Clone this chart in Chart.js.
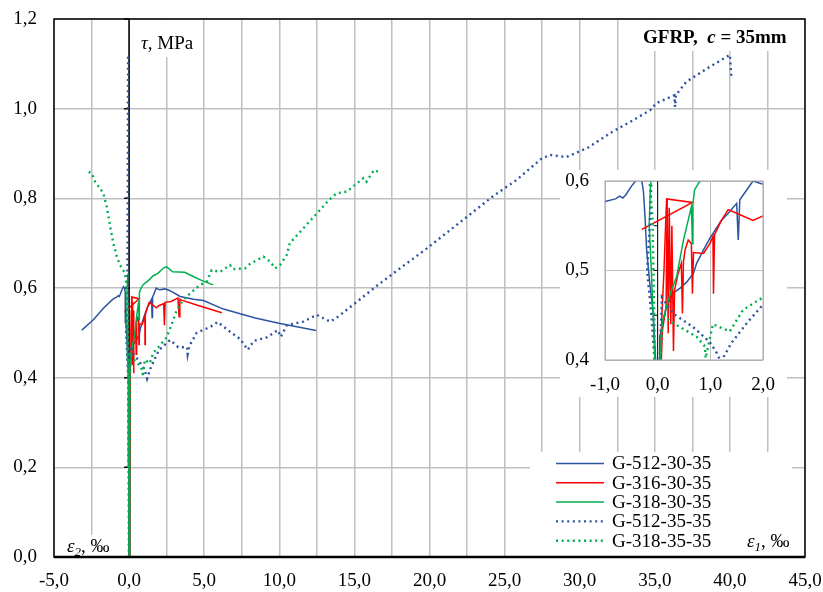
<!DOCTYPE html>
<html>
<head>
<meta charset="utf-8">
<script src="https://cdn.jsdelivr.net/npm/chart.js@4.4.1/dist/chart.umd.min.js"></script>
<style>
  body { margin: 0; background: #fff; }
  #wrap { position: relative; width: 823px; height: 592px; }
  #main { position: absolute; left: 0; top: 0; }
  #zoom { position: absolute; left: 560px; top: 170px; background: #fff; }
</style>
</head>
<body>
<div id="wrap">
  <canvas id="main" width="823" height="592"></canvas>
  <canvas id="zoom" width="227" height="227"></canvas>
</div>
<script>
const FONT = '"Liberation Serif", "Times New Roman", serif';
const BLUE = '#2E54A0';
const RED = '#FF0000';
const GREEN = '#00B050';

// tau [MPa] against strain [permille]; eps2 is negative, eps1 positive
const g512_30_eps2 = [[0,0],[-0.02,0.2],[-0.04,0.4],[-0.08,0.45],[-0.15,0.486],[-0.21,0.523],[-0.24,0.56],[-0.27,0.588],[-0.3,0.6],[-0.38,0.603],[-0.5,0.594],[-0.6,0.585],[-0.66,0.581],[-0.72,0.583],[-0.8,0.58],[-1.0,0.577],[-1.15,0.573],[-1.71,0.555],[-2.38,0.529],[-3.15,0.506]];
const g512_30_eps1 = [[0,0],[0.02,0.2],[0.03,0.4],[0.04,0.426],[0.17,0.46],[0.3,0.475],[0.42,0.48],[0.55,0.487],[0.68,0.497],[0.74,0.508],[0.87,0.523],[0.99,0.536],[1.09,0.545],[1.21,0.556],[1.34,0.564],[1.5,0.575],[1.53,0.534],[1.56,0.579],[1.69,0.59],[1.81,0.6],[1.97,0.597],[2.06,0.596],[2.4,0.598],[2.73,0.594],[3.4,0.581],[4.28,0.575],[4.95,0.572],[6.28,0.553],[8.4,0.533],[10.05,0.521],[12.45,0.505]];

const g316_30_eps2 = [[0.02,0],[0.03,0.2],[0.05,0.38],[0.08,0.45],[0.12,0.5],[0.15,0.55],[0.17,0.58],[0.66,0.576],[-0.3,0.546]];
const g316_30_eps1 = [[0.05,0],[0.06,0.2],[0.07,0.4],[0.09,0.433],[0.16,0.46],[0.18,0.58],[0.2,0.43],[0.22,0.57],[0.25,0.44],[0.27,0.55],[0.3,0.41],[0.32,0.478],[0.39,0.497],[0.45,0.508],[0.47,0.452],[0.49,0.51],[0.52,0.523],[0.58,0.534],[0.64,0.53],[0.66,0.474],[0.68,0.52],[0.87,0.519],[0.99,0.53],[1.05,0.538],[1.06,0.474],[1.08,0.54],[1.21,0.556],[1.34,0.568],[1.5,0.564],[1.81,0.556],[2.0,0.561],[2.3,0.565],[2.35,0.517],[2.4,0.568],[2.8,0.57],[3.25,0.578],[3.33,0.536],[3.38,0.575],[3.5,0.573],[4.5,0.562],[6.17,0.545]];

const g318_30_eps2 = [[0,0],[-0.02,0.2],[-0.04,0.38],[-0.08,0.44],[-0.12,0.5],[-0.16,0.55],[-0.14,0.59],[-0.1,0.62],[-0.07,0.633]];
const g318_30_eps1 = [[0,0],[0.03,0.2],[0.05,0.4],[0.08,0.44],[0.17,0.46],[0.26,0.478],[0.36,0.493],[0.42,0.512],[0.49,0.534],[0.55,0.549],[0.64,0.571],[0.66,0.53],[0.67,0.575],[0.7,0.59],[0.8,0.6],[0.95,0.608],[1.3,0.617],[1.62,0.628],[1.9,0.632],[2.3,0.645],[2.5,0.647],[2.9,0.636],[3.7,0.635],[4.3,0.625],[4.9,0.616],[5.6,0.607]];

const g512_35_eps2 = [[0,0],[-0.02,0.2],[-0.06,0.4],[-0.12,0.45],[-0.2,0.5],[-0.15,0.55],[-0.12,0.6],[-0.1,0.7],[-0.09,0.8],[-0.08,0.9],[-0.08,1.0],[-0.07,1.06],[-0.07,1.12]];
const g512_35_eps1 = [[0,0],[0.02,0.2],[0.04,0.4],[0.08,0.47],[0.29,0.452],[0.67,0.437],[0.99,0.42],[1.12,0.408],[1.2,0.398],[1.4,0.419],[1.69,0.441],[2.0,0.462],[2.73,0.484],[3.27,0.468],[3.86,0.468],[3.9,0.453],[4.0,0.47],[4.5,0.5],[5.4,0.513],[5.9,0.524],[6.7,0.503],[7.4,0.486],[7.9,0.462],[8.3,0.482],[9.17,0.49],[9.9,0.506],[10.1,0.491],[10.5,0.517],[11.6,0.525],[12.5,0.54],[12.9,0.533],[13.4,0.525],[13.9,0.536],[14.9,0.562],[16.5,0.605],[18.0,0.643],[19.7,0.685],[22.5,0.759],[24.2,0.804],[25.8,0.841],[26.7,0.867],[27.4,0.887],[28.0,0.897],[29.1,0.892],[30.5,0.912],[32.2,0.949],[33.6,0.975],[34.7,0.997],[35.1,1.012],[36.3,1.03],[36.35,1.004],[36.4,1.03],[37.1,1.06],[38.5,1.09],[40.0,1.12],[40.1,1.068]];

const g318_35_eps2 = [[0,0],[-0.02,0.2],[-0.05,0.4],[-0.08,0.5],[-0.1,0.56],[-0.15,0.596],[-0.27,0.633],[-0.6,0.651],[-0.82,0.67],[-1.05,0.7],[-1.26,0.737],[-1.49,0.781],[-1.71,0.811],[-2.26,0.837],[-2.49,0.856],[-2.75,0.86]];
const g318_35_eps1 = [[0,0],[0.02,0.2],[0.05,0.4],[0.1,0.45],[0.3,0.441],[0.74,0.426],[0.9,0.415],[0.91,0.402],[1.05,0.44],[1.21,0.436],[1.37,0.432],[1.62,0.456],[2.0,0.47],[2.5,0.49],[2.84,0.52],[3.18,0.551],[3.6,0.573],[4.06,0.588],[4.73,0.607],[5.17,0.614],[5.5,0.64],[6.06,0.636],[6.72,0.651],[6.9,0.642],[7.72,0.644],[8.06,0.654],[8.5,0.662],[8.94,0.67],[9.39,0.659],[9.72,0.644],[10.05,0.651],[10.5,0.674],[10.7,0.7],[12.3,0.759],[13.3,0.796],[13.8,0.811],[14.5,0.815],[14.9,0.826],[15.6,0.845],[15.8,0.837],[16.3,0.863],[16.6,0.859]];

const series = [
  { label: 'G-512-30-35', color: BLUE,  dotted: false, curves: [g512_30_eps2, g512_30_eps1] },
  { label: 'G-316-30-35', color: RED,   dotted: false, curves: [g316_30_eps2, g316_30_eps1] },
  { label: 'G-318-30-35', color: GREEN, dotted: false, curves: [g318_30_eps2, g318_30_eps1] },
  { label: 'G-512-35-35', color: BLUE,  dotted: true,  curves: [g512_35_eps2, g512_35_eps1] },
  { label: 'G-318-35-35', color: GREEN, dotted: true,  curves: [g318_35_eps2, g318_35_eps1] },
];

const DOT = [2, 3.6];
const fmt = v => v.toFixed(1).replace('.', ',');

function makeDatasets() {
  const out = [];
  series.forEach((s, i) => {
    s.curves.forEach(c => {
      out.push({
        label: s.label,
        data: c.map(p => ({ x: p[0], y: p[1] })),
        showLine: true,
        pointRadius: 0,
        borderColor: s.color,
        borderWidth: s.dotted ? 2.4 : 1.5,
        borderDash: s.dotted ? DOT : [],
        borderCapStyle: 'butt',
        tension: 0,
        order: 10 - i,
      });
    });
  });
  return out;
}

function textRuns(ctx, x, y, runs) {
  // draws a list of [text, font, dy] pieces one after another
  let cx = x;
  runs.forEach(r => {
    ctx.font = r[1];
    ctx.fillText(r[0], cx, y + (r[2] || 0));
    cx += ctx.measureText(r[0]).width;
  });
}

const mainDecor = {
  id: 'mainDecor',
  beforeDatasetsDraw(chart) {
    const { ctx, chartArea: a, scales } = chart;
    ctx.save();
    ctx.fillStyle = '#fff';
    ctx.fillRect(136, a.top + 1, 62, 37);     // behind tau label
    ctx.fillRect(633, a.top + 1, 160, 31);    // behind GFRP label
    ctx.fillRect(60, 535, 54, a.bottom - 536); // behind eps2 label
    ctx.fillRect(530, 452, 262, a.bottom - 453); // legend
    // vertical axis at zero strain
    const x0 = scales.x.getPixelForValue(0);
    ctx.strokeStyle = '#000';
    ctx.lineWidth = 1.5;
    ctx.beginPath();
    ctx.moveTo(x0, a.top);
    ctx.lineTo(x0, a.bottom);
    for (let v = 0.2; v < 1.25; v += 0.2) {
      const y = scales.y.getPixelForValue(v);
      ctx.moveTo(x0 - 5, y);
      ctx.lineTo(x0, y);
    }
    ctx.stroke();
    ctx.restore();
  },
  afterDraw(chart) {
    const { ctx, chartArea: a } = chart;
    ctx.save();
    ctx.strokeStyle = '#000';
    ctx.lineWidth = 1.5;
    ctx.strokeRect(a.left, a.top, a.right - a.left, a.bottom - a.top);
    ctx.lineWidth = 2.5;
    ctx.beginPath();
    ctx.moveTo(a.left, a.bottom);
    ctx.lineTo(a.right, a.bottom);
    ctx.stroke();

    ctx.fillStyle = '#000';
    ctx.textBaseline = 'alphabetic';
    textRuns(ctx, 141, 49, [['τ', 'italic 19px ' + FONT], [', MPa', '19px ' + FONT]]);
    textRuns(ctx, 643, 43, [['GFRP,  ', 'bold 19px ' + FONT], ['c', 'bold italic 19px ' + FONT], [' = 35mm', 'bold 19px ' + FONT]]);
    textRuns(ctx, 67, 552, [['ε', 'italic 19px ' + FONT], ['2', 'italic 13px ' + FONT, 4], [', ‰', '19px ' + FONT]]);
    textRuns(ctx, 747, 547, [['ε', 'italic 19px ' + FONT], ['1', 'italic 13px ' + FONT, 4], [', ‰', '19px ' + FONT]]);

    // legend
    ctx.textBaseline = 'middle';
    ctx.font = '19px ' + FONT;
    series.forEach((s, i) => {
      const y = 463.5 + i * 19.3;
      ctx.strokeStyle = s.color;
      ctx.lineWidth = s.dotted ? 2.4 : 1.5;
      ctx.setLineDash(s.dotted ? DOT : []);
      ctx.beginPath();
      ctx.moveTo(556, y);
      ctx.lineTo(604, y);
      ctx.stroke();
      ctx.fillText(s.label, 612, y + 1);
    });
    ctx.restore();
  }
};

const zoomDecor = {
  id: 'zoomDecor',
  beforeDatasetsDraw(chart) {
    const { ctx, chartArea: a, scales } = chart;
    const x0 = scales.x.getPixelForValue(0);
    ctx.save();
    ctx.strokeStyle = '#000';
    ctx.lineWidth = 1;
    ctx.beginPath();
    ctx.moveTo(x0, a.top);
    ctx.lineTo(x0, a.bottom);
    [0.45, 0.5, 0.55].forEach(v => {
      const y = scales.y.getPixelForValue(v);
      ctx.moveTo(x0 - 4, y);
      ctx.lineTo(x0, y);
    });
    ctx.stroke();
    ctx.restore();
  },
  afterDraw(chart) {
    const { ctx, chartArea: a } = chart;
    ctx.save();
    ctx.strokeStyle = '#a6a6a6';
    ctx.lineWidth = 1;
    ctx.strokeRect(a.left, a.top, a.right - a.left, a.bottom - a.top);
    ctx.restore();
  }
};

const tickFont = { family: FONT, size: 19 };

new Chart(document.getElementById('main'), {
  type: 'scatter',
  data: { datasets: makeDatasets() },
  options: {
    responsive: false,
    animation: false,
    layout: { padding: { top: 19, right: 18, left: 0, bottom: 0 } },
    plugins: { legend: { display: false }, tooltip: { enabled: false } },
    scales: {
      x: {
        type: 'linear', min: -5, max: 45,
        afterFit: s => { s.height = 35; s.paddingLeft = 0; s.paddingRight = 0; },
        ticks: {
          stepSize: 2.5, autoSkip: false, maxRotation: 0, padding: 13,
          color: '#000', font: tickFont,
          callback: v => Math.abs(v % 5) < 1e-9 ? fmt(v) : ''
        },
        grid: { color: '#c0c0c0', lineWidth: 1.5, drawTicks: false },
        border: { display: false }
      },
      y: {
        type: 'linear', min: 0, max: 1.2,
        afterFit: s => { s.width = 54; s.paddingTop = 0; s.paddingBottom = 0; },
        ticks: { stepSize: 0.2, padding: 17, color: '#000', font: tickFont, callback: v => fmt(v) },
        grid: { color: '#c0c0c0', lineWidth: 1.5, drawTicks: false },
        border: { display: false }
      }
    }
  },
  plugins: [mainDecor]
});

new Chart(document.getElementById('zoom'), {
  type: 'scatter',
  data: { datasets: makeDatasets() },
  options: {
    responsive: false,
    animation: false,
    layout: { padding: { top: 11, right: 24, left: 0, bottom: 0 } },
    plugins: { legend: { display: false }, tooltip: { enabled: false } },
    scales: {
      x: {
        type: 'linear', min: -1, max: 2,
        afterFit: s => { s.height = 37; s.paddingLeft = 0; s.paddingRight = 0; },
        ticks: { stepSize: 1, autoSkip: false, maxRotation: 0, padding: 14, color: '#000', font: tickFont, callback: v => fmt(v) },
        grid: { color: '#bfbfbf', lineWidth: 1, drawTicks: false },
        border: { display: false }
      },
      y: {
        type: 'linear', min: 0.4, max: 0.6,
        afterFit: s => { s.width = 45; s.paddingTop = 0; s.paddingBottom = 0; },
        ticks: { stepSize: 0.1, padding: 16, color: '#000', font: tickFont, callback: v => fmt(v) },
        grid: { color: '#bfbfbf', lineWidth: 1, drawTicks: false },
        border: { display: false }
      }
    }
  },
  plugins: [zoomDecor]
});
</script>
</body>
</html>
